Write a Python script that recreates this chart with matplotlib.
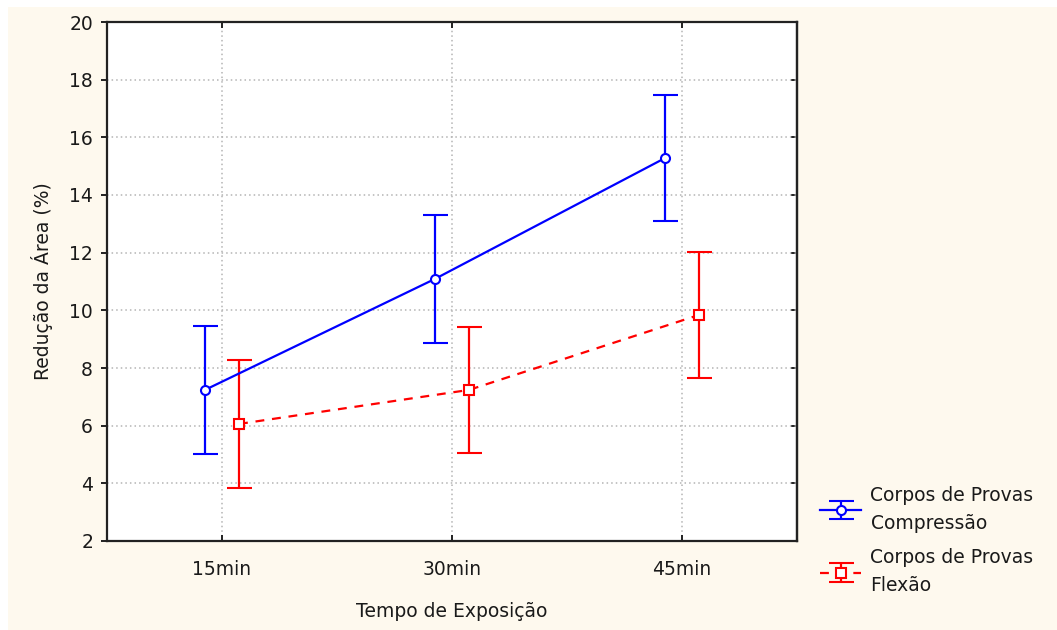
import matplotlib
matplotlib.use("Agg")
import matplotlib.pyplot as plt
from matplotlib.patches import Rectangle
import numpy as np

plt.rcParams['font.family'] = ['DejaVu Sans']

categories = ["15min", "30min", "45min"]
comp_mean = [7.24, 11.09, 15.28]
comp_err = [2.22, 2.23, 2.18]
flex_mean = [6.06, 7.24, 9.84]
flex_err = [2.22, 2.18, 2.17]
labels = ["Corpos de Provas\nCompressão", "Corpos de Provas\nFlexão"]

W, H = 1057, 630
fig = plt.figure(figsize=(W / 100, H / 100), dpi=100, facecolor="#FEF9EE")
fig.patches.append(Rectangle((0, 1 - 7 / H), 1, 7 / H, transform=fig.transFigure,
                             facecolor="white", edgecolor="none", zorder=-1))
fig.patches.append(Rectangle((0, 0), 8 / W, 1, transform=fig.transFigure,
                             facecolor="white", edgecolor="none", zorder=-1))

ax = fig.add_axes([107 / W, 1 - 541 / H, (797 - 107) / W, (541 - 22) / H])
ax.set_facecolor("white")

x = np.arange(1, len(categories) + 1)
off = 0.074
h1 = ax.errorbar(x - off, comp_mean, yerr=comp_err, color="blue", lw=1.6,
                 marker="o", ms=6.5, mfc="white", mec="blue", mew=1.5,
                 capsize=9, capthick=1.6, linestyle="-", zorder=3)
h2 = ax.errorbar(x + off, flex_mean, yerr=flex_err, color="red", lw=1.6,
                 marker="s", ms=7.5, mfc="white", mec="red", mew=1.5,
                 capsize=9, capthick=1.6, linestyle=(0, (4, 3.5)), zorder=3)

ax.set_xlim(0.5, 3.5)
ax.set_ylim(2, 20)
ax.set_yticks(np.arange(2, 21, 2))
ax.set_xticks(x)
ax.set_xticklabels(categories)
ax.grid(True, color="#b4b4b4", linestyle=(0, (1, 2)), lw=1.1)
ax.set_axisbelow(True)
for s in ax.spines.values():
    s.set_linewidth(1.6)
    s.set_color("#222222")
ax.tick_params(axis="y", direction="out", length=4, width=1.4, labelsize=13.5, pad=6,
               colors="#222222", labelcolor="#1a1a1a")
ax.tick_params(axis="x", direction="in", length=4, width=1.4, labelsize=13.5, pad=14,
               top=True, colors="#222222", labelcolor="#1a1a1a")
sec = ax.secondary_yaxis("right")
sec.set_yticks(np.arange(2, 21, 2))
sec.tick_params(direction="in", length=4, width=1.4, labelright=False, colors="#222222")
sec.spines["right"].set_linewidth(1.6)
sec.spines["right"].set_color("#222222")

ax.set_ylabel("Redução da Área (%)", fontsize=13.5, labelpad=12, color="#1a1a1a")
ax.set_xlabel("Tempo de Exposição", fontsize=13.5, labelpad=16, color="#1a1a1a")

leg = fig.legend([h1, h2], labels, loc="lower left",
                 bbox_to_anchor=(803 / W, 1 - 612 / H), frameon=False, fontsize=13.5,
                 handlelength=2.2, handletextpad=0.5, labelspacing=0.83)
for t in leg.get_texts():
    t.set_linespacing(1.6)
    t.set_color("#1a1a1a")

fig.savefig("out.png", dpi=100, facecolor=fig.get_facecolor())
